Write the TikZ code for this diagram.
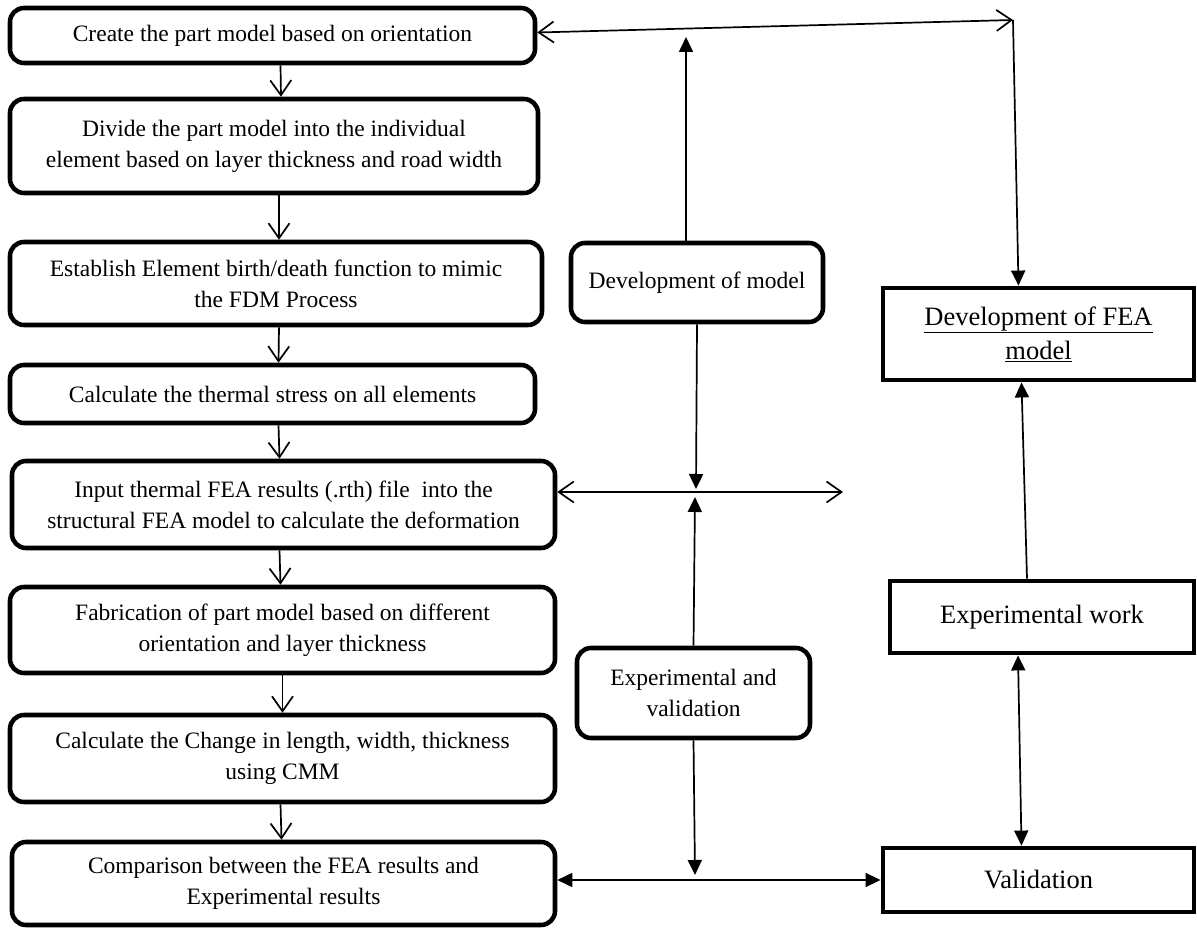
\documentclass[tikz,border=0pt]{standalone}
\usepackage{fontspec}
\setmainfont{Liberation Serif}
\usepackage{tikz}
\usetikzlibrary{arrows.meta}
\tikzset{
STEPBOX/.style ={draw=black,line width=1.6mm,rounded corners=14pt,align=center,inner sep=0pt,font=\fontsize{23.5}{31}\selectfont},
MAINBOX/.style ={draw=black,line width=1.7mm,sharp corners,align=center,inner sep=0pt,font=\fontsize{26.5}{34}\selectfont},
ARC/.style ={draw=black,line cap=butt,line width=0.6mm},
OPEN/.style ={ARC,-{Straight Barb[length=15pt,width=21pt,line width=0.6mm]}},
OPENBOTH/.style ={ARC,{Straight Barb[length=15pt,width=21pt,line width=0.6mm]}-{Straight Barb[length=15pt,width=21pt,line width=0.6mm]}},
FULL/.style ={ARC,-{Triangle[length=15pt,width=14pt]}},
FULLBOTH/.style ={ARC,{Triangle[length=15pt,width=14pt]}-{Triangle[length=15pt,width=14pt]}},
}
\begin{document}
\begin{tikzpicture}[x=1pt,y=-1pt]
\useasboundingbox (0,0) rectangle (1197,928);
% left column, the steps
\node[STEPBOX,minimum width=525pt,minimum height=55pt] (create) at (272.5,35.5) {Create the part model based on orientation};
\node[STEPBOX,minimum width=528pt,minimum height=94pt] (divide) at (274,146) {Divide the part model into the individual\\element based on layer thickness and road width};
\node[STEPBOX,minimum width=532pt,minimum height=83pt] (birth) at (276,283.5) {Establish Element birth/death function to mimic\\the FDM Process};
\node[STEPBOX,minimum width=525pt,minimum height=58pt] (stress) at (272.5,394) {Calculate the thermal stress on all elements};
\node[STEPBOX,minimum width=543pt,minimum height=87pt] (input) at (283.5,504.5) {Input thermal FEA results (.rth) file\ \ into the\\structural FEA model to calculate the deformation};
\node[STEPBOX,minimum width=545pt,minimum height=86pt] (fabric) at (282.5,630) {Fabrication of part model based on different\\orientation and layer thickness};
\node[STEPBOX,minimum width=545pt,minimum height=87pt] (change) at (282.5,758.5) {Calculate the Change in length, width, thickness\\using CMM};
\node[STEPBOX,minimum width=543pt,minimum height=83pt] (compare) at (283.5,883.5) {Comparison between the FEA results and\\Experimental results};
% middle column
\node[STEPBOX,minimum width=252pt,minimum height=79pt] (devmodel) at (697,282.5) {Development of model};
\node[STEPBOX,minimum width=233pt,minimum height=90pt] (expval) at (693.5,693) {Experimental and\\validation};
% right column
\node[MAINBOX,minimum width=311pt,minimum height=92pt] (devfea) at (1038.5,334) {\underline{Development of FEA}\\\underline{model}};
\node[MAINBOX,minimum width=304pt,minimum height=72pt] (expwork) at (1042,617) {Experimental work};
\node[MAINBOX,minimum width=311pt,minimum height=64pt] (valid) at (1038.5,880) {Validation};
% free ends
\coordinate (topright) at (1013,20);
\coordinate (tophit) at (686,37);
\coordinate (midhit) at (696,489);
\coordinate (midlow) at (695,497);
\coordinate (midright) at (843,492);
\coordinate (lowhit) at (695,875);
% step arrows
\draw[OPEN] ([xshift=8]create.south) -- ([xshift=7]divide.north);
\draw[OPEN] ([xshift=5]divide.south) -- ([xshift=3]birth.north);
\draw[OPEN] ([xshift=3]birth.south) -- ([xshift=6]stress.north);
\draw[OPEN] ([xshift=6]stress.south) -- ([xshift=-4]input.north);
\draw[OPEN] ([xshift=-4]input.south) -- ([xshift=-2]fabric.north);
\draw[OPEN] ([xshift=0]fabric.south) -- ([xshift=0]change.north);
\draw[OPEN] ([xshift=-2]change.south) -- ([xshift=-2]compare.north);
% links
\draw[OPENBOTH] ([yshift=3]create.east) -- (topright);
\draw[FULL] (topright) -- ([xshift=-20]devfea.north);
\draw[FULL] ([xshift=-11]devmodel.north) -- (tophit);
\draw[FULL] (devmodel.south) -- (midhit);
\draw[FULL] (expval.north) -- (midlow);
\draw[OPENBOTH] ([yshift=12.5]input.east) -- (midright);
\draw[FULL] (expval.south) -- (lowhit);
\draw[FULLBOTH] (compare.east |- valid.west) -- (valid.west);
\draw[FULL] ([xshift=-15]expwork.north) -- ([xshift=-17]devfea.south);
\draw[FULLBOTH] ([xshift=-24]expwork.south) -- ([xshift=-17]valid.north);
\end{tikzpicture}
\end{document}
